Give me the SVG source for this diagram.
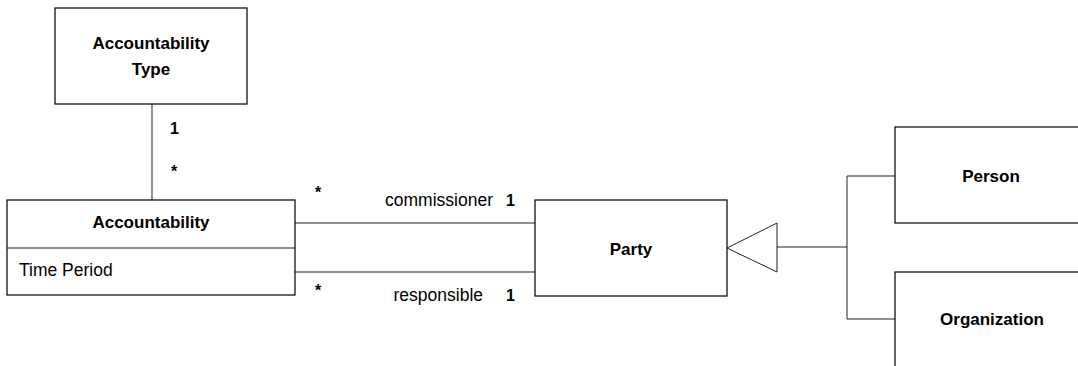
<svg xmlns="http://www.w3.org/2000/svg" width="1078" height="366" viewBox="0 0 1078 366">
<style>
.box{fill:#fff;stroke:#000;stroke-width:1.2}
.ln{fill:none;stroke:#222;stroke-width:1}
.b{font-family:"Liberation Sans",Arial,sans-serif;font-weight:bold;font-size:17px;fill:#000}
.r{font-family:"Liberation Sans",Arial,sans-serif;font-size:17.5px;fill:#000}
.m{font-family:"Liberation Sans",Arial,sans-serif;font-weight:bold;font-size:16px;fill:#000}
</style>
<rect width="1078" height="366" fill="#fff"/>
<g id="connectors">
<line class="ln" x1="152" y1="104" x2="152" y2="200"/>
<line class="ln" x1="295" y1="223" x2="535" y2="223"/>
<line class="ln" x1="295" y1="272" x2="535" y2="272"/>
<polygon class="ln" points="727,248 777,223 777,272"/>
<polyline class="ln" points="777,247 847,247"/>
<polyline class="ln" points="895,176 847,176 847,319 895,319"/>
<text class="m" x="170" y="134">1</text>
<text class="m" x="171" y="177">*</text>
<text class="m" x="315" y="198">*</text>
<text class="r" x="493" y="206" text-anchor="end">commissioner</text>
<text class="m" x="506" y="206">1</text>
<text class="m" x="315" y="296">*</text>
<text class="r" x="483" y="301" text-anchor="end">responsible</text>
<text class="m" x="506" y="301">1</text>
</g>
<g id="accountability-type">
<rect class="box" x="55" y="8" width="192" height="96"/>
<text class="b" x="151" y="49" text-anchor="middle">Accountability</text>
<text class="b" x="151" y="75" text-anchor="middle">Type</text>
</g>
<g id="accountability">
<rect class="box" x="7" y="200" width="288" height="95"/>
<line class="ln" x1="7" y1="248" x2="295" y2="248"/>
<text class="b" x="151" y="228" text-anchor="middle">Accountability</text>
<text class="r" x="19" y="276">Time Period</text>
</g>
<g id="party">
<rect class="box" x="535" y="200" width="192" height="96"/>
<text class="b" x="631" y="255" text-anchor="middle">Party</text>
</g>
<g id="person">
<rect class="box" x="895" y="127" width="200" height="96"/>
<text class="b" x="991" y="182" text-anchor="middle">Person</text>
</g>
<g id="organization">
<rect class="box" x="895" y="272" width="200" height="110"/>
<text class="b" x="992" y="325" text-anchor="middle">Organization</text>
</g>
</svg>
